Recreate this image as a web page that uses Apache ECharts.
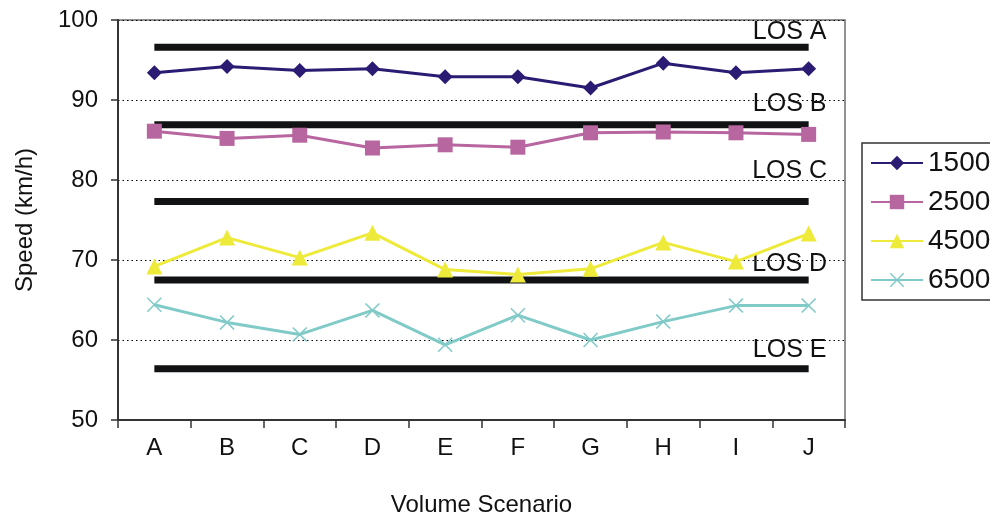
<!DOCTYPE html>
<html>
<head>
<meta charset="utf-8">
<script src="https://cdn.jsdelivr.net/npm/echarts@6/dist/echarts.min.js"></script>
<style>
html,body{margin:0;padding:0;background:#fff;}
#chart{width:990px;height:522px;}
</style>
</head>
<body>
<div id="chart"></div>
<script>
// ---- data ----
const categories = ['A', 'B', 'C', 'D', 'E', 'F', 'G', 'H', 'I', 'J'];
const seriesNames = ['1500', '2500', '4500', '6500'];
const s1500 = [93.4, 94.2, 93.7, 93.9, 92.9, 92.9, 91.5, 94.6, 93.4, 93.9];
const s2500 = [86.1, 85.2, 85.6, 84.0, 84.4, 84.1, 85.9, 86.0, 85.9, 85.7];
const s4500 = [69.2, 72.8, 70.3, 73.4, 68.8, 68.2, 68.9, 72.2, 69.8, 73.3];
const s6500 = [64.4, 62.2, 60.7, 63.7, 59.4, 63.1, 60.0, 62.3, 64.3, 64.3];
const losNames = ['LOS A', 'LOS B', 'LOS C', 'LOS D', 'LOS E'];
const losValues = [96.6, 86.9, 77.3, 67.5, 56.4];
const yMin = 50, yMax = 100, yStep = 10;

// ---- styles ----
const FONT = '"Liberation Sans", Arial, sans-serif';
const colors = ['#2b1b72', '#b8669f', '#eeea3a', '#80cac8'];
const crossPath = 'path://M0,1L1,0L7,6L13,0L14,1L8,7L14,13L13,14L7,8L1,14L0,13L6,7Z';
const symbols = ['diamond', 'rect', 'triangle', crossPath];
const symbolSizes = [15, 15, 16, 15];
const losLabelOffsets = [[-19, -15], [-19, -20.5], [-19, -30], [-19, -16], [-19, -18.5]];

const values = [s1500, s2500, s4500, s6500];

const losSeries = losNames.map((nm, k) => ({
  name: nm,
  type: 'line',
  silent: true,
  z: 1,
  symbol: 'circle',
  symbolSize: 1,
  itemStyle: { color: 'transparent' },
  lineStyle: { color: '#111214', width: 7, cap: 'butt' },
  emphasis: { disabled: true },
  data: categories.map((c, i) => i === categories.length - 1 ? {
    value: losValues[k],
    label: {
      show: true,
      position: 'inside',
      offset: losLabelOffsets[k],
      formatter: nm,
      color: '#111',
      fontFamily: FONT,
      fontSize: 25
    }
  } : losValues[k])
}));

const dataSeries = seriesNames.map((nm, k) => ({
  name: nm,
  type: 'line',
  z: 3,
  symbol: symbols[k],
  symbolSize: symbolSizes[k],
  showAllSymbol: true,
  itemStyle: { color: colors[k] },
  lineStyle: { color: colors[k], width: 3 },
  data: values[k]
}));

const chart = echarts.init(document.getElementById('chart'), null, { renderer: 'canvas' });
chart.setOption({
  animation: false,
  backgroundColor: '#fff',
  textStyle: { fontFamily: FONT },
  grid: {
    left: 118, right: 145, top: 20, bottom: 98,
    show: true, borderColor: '#6e6e6e', borderWidth: 1.5, backgroundColor: 'transparent'
  },
  legend: {
    data: seriesNames,
    orient: 'vertical',
    left: 862,
    top: 143,
    padding: [6, 40, 6, 8],
    itemGap: 11,
    itemWidth: 52,
    itemHeight: 18,
    borderColor: '#333',
    borderWidth: 1.5,
    textStyle: { fontFamily: FONT, fontSize: 28, color: '#111', lineHeight: 28 }
  },
  xAxis: {
    type: 'category',
    data: categories,
    boundaryGap: true,
    name: 'Volume Scenario',
    nameLocation: 'middle',
    nameGap: 73,
    nameTextStyle: { fontFamily: FONT, fontSize: 24, color: '#111' },
    axisLine: { show: true, lineStyle: { color: '#333', width: 2 } },
    axisTick: { show: true, interval: 0, length: 8, lineStyle: { color: '#333', width: 1.5 } },
    axisLabel: { margin: 16, fontFamily: FONT, fontSize: 24, color: '#111', interval: 0 },
    splitLine: { show: false }
  },
  yAxis: {
    type: 'value',
    min: yMin, max: yMax, interval: yStep,
    name: 'Speed (km/h)',
    nameLocation: 'middle',
    nameGap: 81,
    nameRotate: 90,
    nameTextStyle: { fontFamily: FONT, fontSize: 24, color: '#111' },
    axisLine: { show: true, lineStyle: { color: '#333', width: 2 } },
    axisTick: { show: true, length: 7, lineStyle: { color: '#333', width: 1.5 } },
    axisLabel: { margin: 20, fontFamily: FONT, fontSize: 24, color: '#111' },
    splitLine: { show: true, lineStyle: { color: '#000', width: 1.2, type: [1.5, 3] } }
  },
  series: losSeries.concat(dataSeries)
});
</script>
</body>
</html>
